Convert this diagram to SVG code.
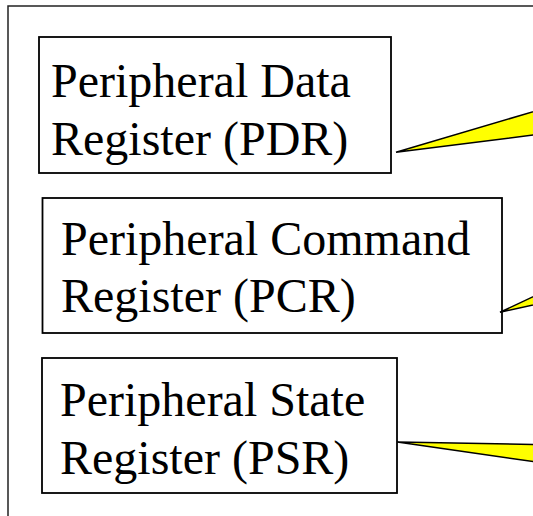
<svg xmlns="http://www.w3.org/2000/svg" width="533" height="516" viewBox="0 0 533 516">
<style>
.frame{fill:none;stroke:#222;stroke-width:1.5}
.box{fill:#fff;stroke:#000;stroke-width:1.8}
.lbl{font-family:"Liberation Serif","Times New Roman",serif;font-size:48px;fill:#000}
.call{fill:#ffff00;stroke:#000;stroke-width:1.5;stroke-linejoin:miter}
</style>
<rect width="533" height="516" fill="#fff"/>
<rect class="frame" x="8" y="6" width="620" height="620"/>
<g id="pdr">
<rect class="box" x="39" y="37" width="352" height="136"/>
<text class="lbl" x="51" y="97">Peripheral Data</text>
<text class="lbl" x="51" y="155">Register (PDR)</text>
</g>
<g id="pcr">
<rect class="box" x="42.5" y="198" width="459.5" height="135"/>
<text class="lbl" x="61" y="255">Peripheral Command</text>
<text class="lbl" x="61" y="312">Register (PCR)</text>
</g>
<g id="psr">
<rect class="box" x="42" y="358" width="355" height="135"/>
<text class="lbl" x="60" y="416">Peripheral State</text>
<text class="lbl" x="60" y="474">Register (PSR)</text>
</g>
<g id="connectors">
<polygon class="call" points="396,152.3 545,108.2 545,133.5"/>
<polygon class="call" points="500,312.3 545,291.1 545,302.4"/>
<polygon class="call" points="397.3,442 545,444.6 545,463.3"/>
</g>
</svg>
